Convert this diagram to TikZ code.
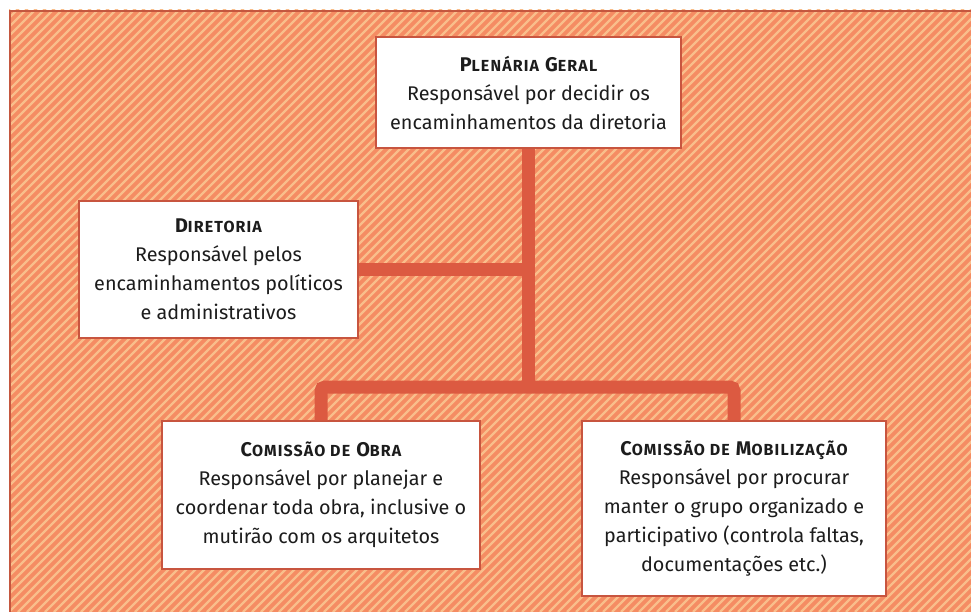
\documentclass[tikz,border=0pt]{standalone}
\usepackage{fontspec}
\setmainfont{Fira Sans}[Ligatures=NoCommon]
\usetikzlibrary{positioning}

\definecolor{bgsalmon}{HTML}{F58C63}
\definecolor{bgstripe}{HTML}{F9BE8B}
\definecolor{frameline}{HTML}{C4573F}
\definecolor{linkred}{HTML}{DC5A41}
\definecolor{boxline}{HTML}{C8553F}
\definecolor{inkblack}{HTML}{1C1C1C}

\newcommand{\capt}[2]{#1{\fontsize{16}{16}\selectfont #2}}
\newcommand{\boxtitle}[1]{{\bfseries\addfontfeature{LetterSpace=7}#1}}

\tikzset{
  orgbox/.style={draw=boxline, line width=1.2pt, fill=white, align=center,
    text=inkblack, font=\fontsize{19.8}{29}\selectfont, inner sep=0pt},
  link/.style={draw=linkred, line width=13pt},
}

\begin{document}
\begin{tikzpicture}[x=1pt,y=-1pt]
    \useasboundingbox (0,0) rectangle (971,612);

    % striped background
    \fill[bgsalmon] (9,10) rectangle (971,612);
    \begin{scope}
      \clip (9,10) rectangle (971,612);
      \foreach \i in {-70,...,110}
        \draw[bgstripe, line width=2.2pt] (\i*9,612) -- ++(612,-612);
    \end{scope}
    \draw[frameline, line width=2pt] (10,612) -- (10,11) -- (971,11);

    \node[orgbox, minimum width=305pt, minimum height=111pt] (plen) at (528.5,92.5)
      {\boxtitle{\capt{P}{LENÁRIA} \capt{G}{ERAL}}\\Responsável por decidir os\\encaminhamentos da diretoria};
    \node[orgbox, minimum width=279pt, minimum height=137pt] (dir) at (218.5,269.5)
      {\boxtitle{\capt{D}{IRETORIA}}\\Responsável pelos\\encaminhamentos políticos\\e administrativos};
    \node[orgbox, minimum width=318pt, minimum height=148pt] (obra) at (321,495)
      {\boxtitle{\capt{C}{OMISSÃO DE} \capt{O}{BRA}}\\Responsável por planejar e\\coordenar toda obra, inclusive o\\mutirão com os arquitetos};
    \node[orgbox, minimum width=304pt, minimum height=175pt] (mob) at (734,508.5)
      {\boxtitle{\capt{C}{OMISSÃO DE} \capt{M}{OBILIZAÇÃO}}\\Responsável por procurar\\manter o grupo organizado e\\participativo (controla faltas,\\documentações etc.)};

    \coordinate (junc) at (528.5,387);

    \draw[link] (plen.south) -- (junc);
    \draw[link] (dir.east) -- (dir.east -| junc); % Diretoria
    \draw[link, rounded corners=4pt] (obra.north) |- (junc) -| (mob.north); % Comissoes
  \end{tikzpicture}
\end{document}
